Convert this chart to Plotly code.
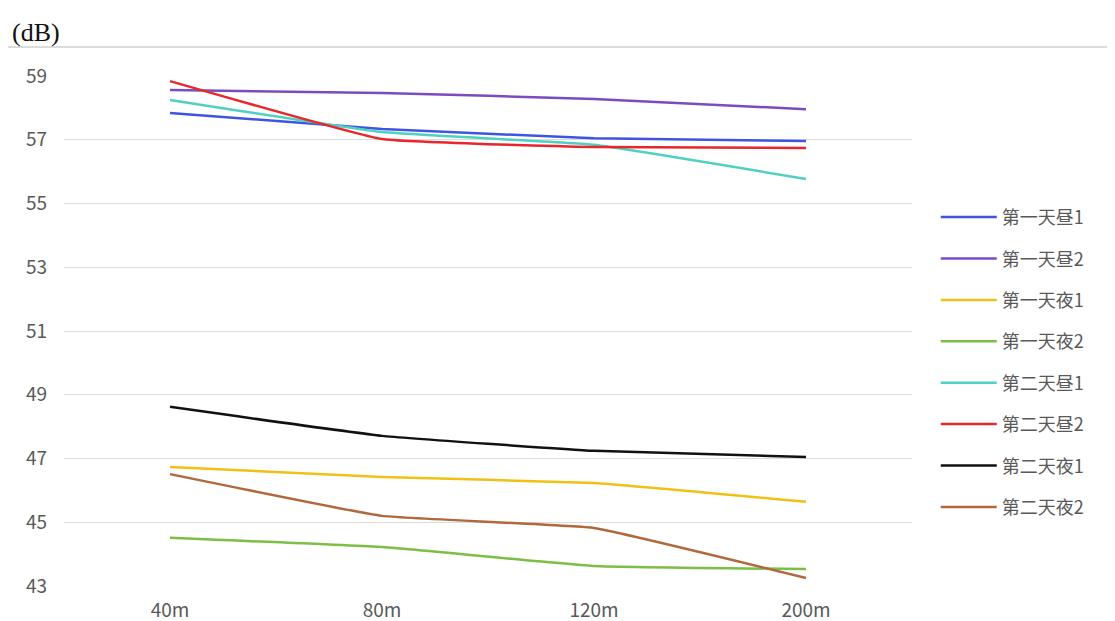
import plotly.graph_objects as go

categories = ["40m", "80m", "120m", "200m"]
series_names = ["第一天昼1", "第一天昼2", "第一天夜1", "第一天夜2",
                "第二天昼1", "第二天昼2", "第二天夜1", "第二天夜2"]
d1_day1 = [57.84, 57.34, 57.05, 56.96]
d1_day2 = [58.56, 58.47, 58.28, 57.96]
d1_night1 = [46.73, 46.42, 46.23, 45.64]
d1_night2 = [44.51, 44.22, 43.63, 43.53]
d2_day1 = [58.25, 57.24, 56.84, 55.77]
d2_day2 = [58.84, 57.02, 56.77, 56.74]
d2_night1 = [48.62, 47.71, 47.24, 47.05]
d2_night2 = [46.51, 45.20, 44.82, 43.25]
series_values = [d1_day1, d1_day2, d1_night1, d1_night2,
                 d2_day1, d2_day2, d2_night1, d2_night2]
colors = ["#3f55e0", "#7a4cc0", "#f2c012", "#7cbf45",
          "#4fd1c1", "#e8262b", "#111111", "#b0683c"]
y_ticks = [43, 45, 47, 49, 51, 53, 55, 57, 59]

fig = go.Figure()
for i, (name, vals, c) in enumerate(zip(series_names, series_values, colors)):
    fig.add_trace(go.Scatter(
        x=categories, y=vals, name=name, mode="lines",
        line=dict(color=c, width=2.5, shape="spline", smoothing=0.3),
        legendgroup=f"g{i}",
    ))

fig.update_layout(
    width=1107, height=613,
    paper_bgcolor="white", plot_bgcolor="white",
    margin=dict(l=56, r=203, t=68, b=35),
    font=dict(family="Noto Sans CJK SC, Noto Sans, sans-serif", color="#595959"),
    xaxis=dict(type="category", range=[-0.5, 3.5], showgrid=False,
               showline=False, zeroline=False, ticks="",
               ticklabelstandoff=11, automargin=False,
               tickfont=dict(size=19, color="#595959")),
    yaxis=dict(range=[43, 59], tickvals=y_ticks, showgrid=True,
               gridcolor="#dcdcdc", gridwidth=1, zeroline=False,
               showline=False, ticks="", ticklen=0,
               ticklabelstandoff=16, automargin=False,
               tickfont=dict(size=19, color="#595959")),
    legend=dict(x=1.028, y=0.759, xanchor="left", yanchor="top",
                font=dict(size=18, color="#595959"),
                itemwidth=56,
                traceorder="grouped", tracegroupgap=15,
                bgcolor="rgba(0,0,0,0)"),
    shapes=[dict(type="line", xref="paper", yref="paper",
                 x0=-0.066, x1=1.24, y0=1.057, y1=1.057,
                 line=dict(color="#d0d0d0", width=1.5))],
    annotations=[dict(text="(dB)", xref="paper", yref="paper",
                      x=-0.064, y=1.086, xanchor="left", yanchor="middle",
                      showarrow=False,
                      font=dict(family="Liberation Serif, Times New Roman, serif",
                                size=26, color="#111111"))],
)

fig.write_html("out.html")
